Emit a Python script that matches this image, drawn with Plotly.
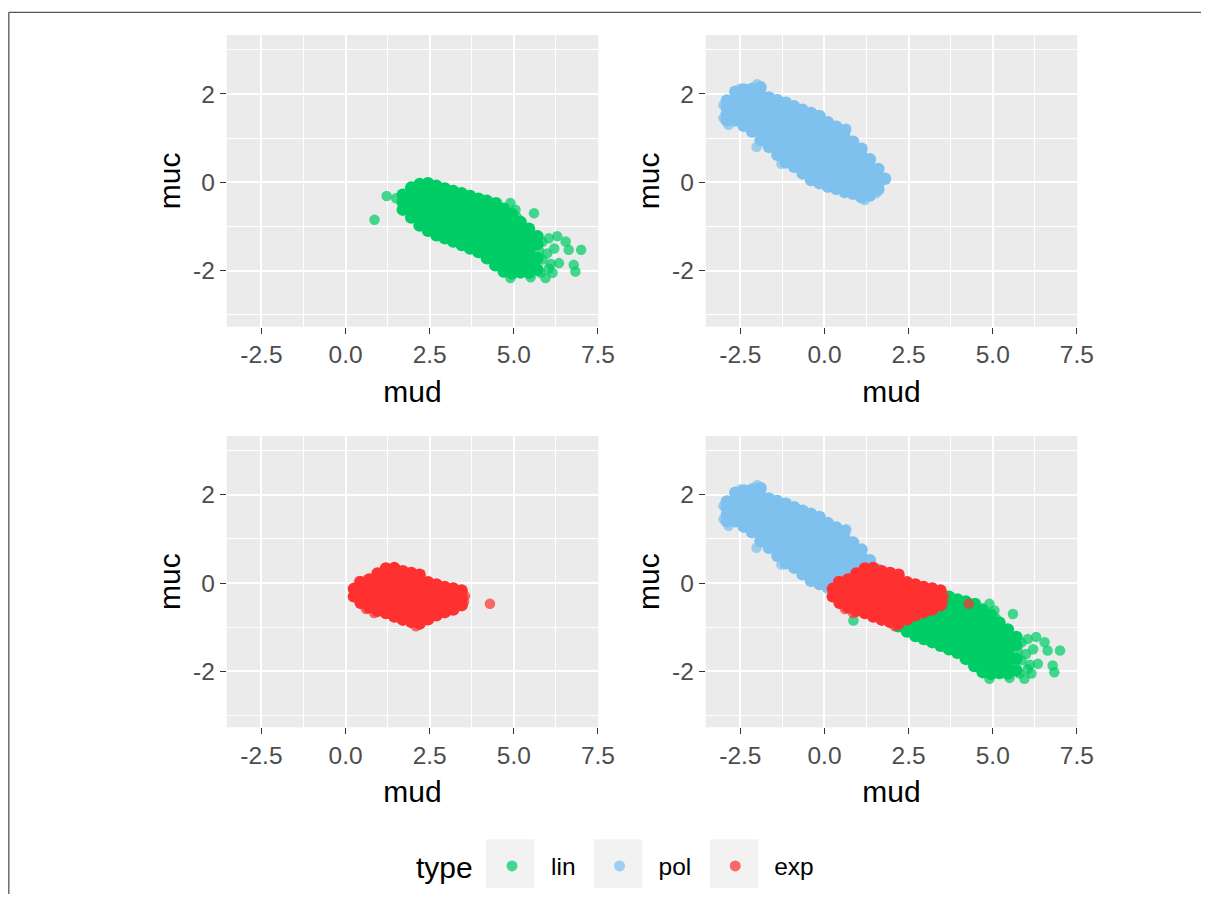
import plotly.graph_objects as go

# ---------------- data ----------------
# lin: points grouped by mud column, muc values per column
lin_col_mud = [1.70, 1.95, 2.20, 2.45, 2.70, 2.95, 3.20, 3.45, 3.70, 3.95,
               4.20, 4.45, 4.70, 4.95, 5.20, 5.45, 5.70]
lin_col_muc = [
    [-0.28, -0.45, -0.62],
    [-0.12, -0.29, -0.46, -0.63, -0.80],
    [-0.04, -0.20, -0.37, -0.54, -0.71, -0.87, -0.98],
    [-0.02, -0.19, -0.36, -0.53, -0.70, -0.86, -1.02, -1.10],
    [-0.08, -0.25, -0.42, -0.58, -0.75, -0.92, -1.08, -1.20],
    [-0.14, -0.31, -0.48, -0.65, -0.82, -0.98, -1.14, -1.27],
    [-0.20, -0.37, -0.54, -0.70, -0.87, -1.04, -1.20, -1.34],
    [-0.25, -0.42, -0.59, -0.75, -0.92, -1.09, -1.25, -1.42],
    [-0.31, -0.48, -0.64, -0.81, -0.98, -1.14, -1.31, -1.50],
    [-0.37, -0.54, -0.70, -0.87, -1.04, -1.20, -1.37, -1.58],
    [-0.42, -0.59, -0.76, -0.93, -1.10, -1.27, -1.44, -1.60, -1.72],
    [-0.48, -0.65, -0.82, -0.99, -1.16, -1.33, -1.50, -1.67, -1.88],
    [-0.60, -0.76, -0.92, -1.08, -1.24, -1.40, -1.56, -1.72, -1.88, -2.02],
    [-0.72, -0.88, -1.05, -1.22, -1.39, -1.56, -1.73, -1.90, -2.06],
    [-0.90, -1.06, -1.23, -1.40, -1.57, -1.74, -1.90, -2.04],
    [-1.05, -1.22, -1.39, -1.56, -1.73, -1.90, -2.05],
    [-1.22, -1.40, -1.72, -1.98],
]
lin_extra_mud = [0.86, 1.22, 1.50, 4.50, 4.90, 5.60, 5.05, 5.10, 6.04, 6.29, 6.54, 6.63,
                 7.00, 6.78, 6.83, 6.34, 6.04, 5.94, 5.99, 5.50, 4.90, 6.20, 5.85,
                 5.85, 6.10, 5.80, 6.15, 5.75]
lin_extra_muc = [-0.85, -0.31, -0.36, -0.45, -0.47, -0.70, -0.62, -0.80, -1.27, -1.22, -1.34, -1.53,
                 -1.53, -1.87, -2.02, -1.83, -1.95, -2.17, -1.61, -2.15, -2.17, -1.50, -1.35,
                 -1.75, -1.85, -2.05, -2.05, -1.55]

# pol
pol_col_mud = [-2.90, -2.65, -2.40, -2.15, -1.90, -1.65, -1.40, -1.15, -0.90, -0.65,
               -0.40, -0.15, 0.10, 0.35, 0.60, 0.85, 1.10, 1.35, 1.60, 1.80]
pol_col_muc = [
    [1.85, 1.70, 1.55, 1.40],
    [2.05, 1.88, 1.72, 1.56, 1.40],
    [2.10, 1.94, 1.78, 1.61, 1.45, 1.28],
    [2.12, 1.95, 1.78, 1.61, 1.44, 1.28, 1.15],
    [2.15, 1.98, 1.81, 1.64, 1.47, 1.30, 1.13, 0.95],
    [1.92, 1.76, 1.60, 1.44, 1.28, 1.12, 0.96, 0.80],
    [1.86, 1.70, 1.54, 1.38, 1.22, 1.06, 0.90, 0.75, 0.62],
    [1.80, 1.63, 1.46, 1.29, 1.12, 0.96, 0.79, 0.62, 0.45],
    [1.72, 1.55, 1.38, 1.21, 1.04, 0.87, 0.70, 0.52, 0.35],
    [1.64, 1.48, 1.32, 1.16, 1.00, 0.84, 0.68, 0.52, 0.36, 0.20],
    [1.57, 1.40, 1.23, 1.06, 0.89, 0.72, 0.55, 0.38, 0.21, 0.05],
    [1.50, 1.33, 1.16, 0.99, 0.82, 0.65, 0.48, 0.31, 0.14, -0.02],
    [1.36, 1.20, 1.04, 0.88, 0.72, 0.56, 0.40, 0.24, 0.07, -0.10],
    [1.26, 1.09, 0.92, 0.75, 0.58, 0.41, 0.24, 0.06, -0.15],
    [1.18, 1.01, 0.84, 0.66, 0.49, 0.32, 0.14, -0.04, -0.22],
    [0.92, 0.75, 0.58, 0.41, 0.24, 0.08, -0.09, -0.26],
    [0.76, 0.60, 0.44, 0.28, 0.12, -0.04, -0.20, -0.34],
    [0.52, 0.36, 0.20, 0.04, -0.13, -0.30],
    [0.30, 0.14, -0.02, -0.16],
    [0.08],
]
pol_extra_mud = [-3.00, -3.00, -2.00, -2.50, -2.02, -1.28, 0.65, 1.20, 1.55, -2.85]
pol_extra_muc = [1.75, 1.45, 2.22, 2.12, 0.80, 0.42, 1.22, -0.40, -0.24, 1.30]

# exp
exp_col_mud = [0.25, 0.45, 0.70, 0.95, 1.20, 1.45, 1.70, 1.95, 2.20, 2.45, 2.70, 2.95, 3.20, 3.45]
exp_col_muc = [
    [-0.13, -0.30],
    [0.02, -0.14, -0.30, -0.45],
    [0.08, -0.08, -0.24, -0.40, -0.55],
    [0.22, 0.05, -0.12, -0.29, -0.46, -0.63],
    [0.33, 0.16, -0.01, -0.18, -0.35, -0.52, -0.68],
    [0.34, 0.17, 0.00, -0.17, -0.34, -0.51, -0.68, -0.76],
    [0.27, 0.10, -0.07, -0.24, -0.41, -0.58, -0.75, -0.83],
    [0.23, 0.06, -0.11, -0.28, -0.45, -0.62, -0.79, -0.88],
    [0.19, 0.02, -0.15, -0.32, -0.49, -0.66, -0.83, -0.92],
    [0.02, -0.15, -0.32, -0.49, -0.66, -0.82],
    [-0.03, -0.20, -0.37, -0.54, -0.73],
    [-0.09, -0.26, -0.43, -0.60, -0.66],
    [-0.12, -0.29, -0.45, -0.60],
    [-0.17, -0.33, -0.50],
]
exp_extra_mud = [4.29, 2.09, 0.61, 0.22, 0.41, 3.55, 3.52, 0.85]
exp_extra_muc = [-0.47, -0.98, -0.59, -0.31, 0.05, -0.30, -0.42, -0.68]

types = ["lin", "pol", "exp"]
colors = {"lin": "#00CD66", "pol": "#7EC0EE", "exp": "#FF3030"}

x_tickvals = [-2.5, 0.0, 2.5, 5.0, 7.5]
x_ticktext = ["-2.5", "0.0", "2.5", "5.0", "7.5"]
x_minor = [-1.25, 1.25, 3.75, 6.25]
y_tickvals = [-2, 0, 2]
y_ticktext = ["-2", "0", "2"]
y_minor = [-3, -1, 1, 3]

# marker styling: dense core points drawn solid, sparse outer points translucent
CORE_SIZE, CORE_OP = 12.5, 1.0
OUT_SIZE, OUT_OP = 10.5, 0.72


def build(col_x, col_y, ex_x, ex_y):
    xs, ys, sz, op = [], [], [], []
    for cx, cys in zip(col_x, col_y):
        for cy in cys:
            xs.append(cx)
            ys.append(cy)
            sz.append(CORE_SIZE)
            op.append(CORE_OP)
    for ex, ey in zip(ex_x, ex_y):
        xs.append(ex)
        ys.append(ey)
        sz.append(OUT_SIZE)
        op.append(OUT_OP)
    return xs, ys, sz, op


data = {
    "lin": build(lin_col_mud, lin_col_muc, lin_extra_mud, lin_extra_muc),
    "pol": build(pol_col_mud, pol_col_muc, pol_extra_mud, pol_extra_muc),
    "exp": build(exp_col_mud, exp_col_muc, exp_extra_mud, exp_extra_muc),
}

# ---------------- figure ----------------
# page body has an 8px margin; the page is captured ~1226px wide and shown at 1209px,
# so horizontal positions are scaled by SX.
OFF = 8
SX = 1209 / 1226
W, H = 1210, 886
FONT = "Liberation Sans, Arial, sans-serif"


def fx(p):  # target pixel x -> paper
    return (p / SX - OFF) / W


def fy(p):  # target pixel y -> paper
    return 1 - (p - OFF) / H


fig = go.Figure()

panel_of = {"lin": 1, "pol": 2, "exp": 3}


def axes_of(k):
    return ("x" if k == 1 else f"x{k}"), ("y" if k == 1 else f"y{k}")


# individual panels
for t in types:
    xa, ya = axes_of(panel_of[t])
    xs, ys, sz, op = data[t]
    fig.add_trace(go.Scatter(
        x=xs, y=ys, mode="markers", name=t, legendgroup=t, showlegend=False,
        marker=dict(color=colors[t], size=sz, opacity=op, line=dict(width=0)),
        xaxis=xa, yaxis=ya, hoverinfo="skip",
    ))
# combined panel
for t in types:
    xs, ys, sz, op = data[t]
    fig.add_trace(go.Scatter(
        x=xs, y=ys, mode="markers", name=t, legendgroup=t, showlegend=False,
        marker=dict(color=colors[t], size=sz, opacity=op, line=dict(width=0)),
        xaxis="x4", yaxis="y4", hoverinfo="skip",
    ))
# legend entries (no data, legend only)
for t in types:
    fig.add_trace(go.Scatter(
        x=[None], y=[None], mode="markers", name=t, legendgroup=t, showlegend=True,
        marker=dict(color=colors[t], size=11, opacity=0.72, line=dict(width=0)),
        xaxis="x4", yaxis="y4", hoverinfo="skip",
    ))

colx = [(226.7, 598.3), (705.7, 1077.3)]
rowy = [(35.0, 326.7), (436.0, 727.3)]


def xdom(c):
    return [fx(colx[c][0]), fx(colx[c][1])]


def ydom(r):
    return [fy(rowy[r][1]), fy(rowy[r][0])]


common_x = dict(
    range=[-3.53, 7.51], tickmode="array", tickvals=x_tickvals, ticktext=x_ticktext,
    showgrid=True, gridcolor="white", gridwidth=1.5, zeroline=False, showline=False,
    ticks="outside", ticklen=6, tickwidth=1.1, tickcolor="#333333",
    tickfont=dict(size=24.5, color="#4D4D4D", family=FONT),
    minor=dict(tickmode="array", tickvals=x_minor, showgrid=True, gridcolor="white",
               gridwidth=0.75, ticks=""),
    title=dict(text="mud", font=dict(size=30, color="black", family=FONT), standoff=13),
    fixedrange=True,
)
common_y = dict(
    range=[-3.27, 3.335], tickmode="array", tickvals=y_tickvals, ticktext=y_ticktext,
    showgrid=True, gridcolor="white", gridwidth=1.5, zeroline=False, showline=False,
    ticks="outside", ticklen=6, tickwidth=1.1, tickcolor="#333333",
    tickfont=dict(size=24.5, color="#4D4D4D", family=FONT),
    minor=dict(tickmode="array", tickvals=y_minor, showgrid=True, gridcolor="white",
               gridwidth=0.75, ticks=""),
    title=dict(text="muc", font=dict(size=30, color="black", family=FONT), standoff=3),
    fixedrange=True,
)

layout_axes = {}
for k, (c, r) in enumerate([(0, 0), (1, 0), (0, 1), (1, 1)], start=1):
    xn = "xaxis" if k == 1 else f"xaxis{k}"
    yn = "yaxis" if k == 1 else f"yaxis{k}"
    xa = dict(common_x)
    ya = dict(common_y)
    xa.update(domain=xdom(c), anchor="y" if k == 1 else f"y{k}")
    ya.update(domain=ydom(r), anchor="x" if k == 1 else f"x{k}")
    layout_axes[xn] = xa
    layout_axes[yn] = ya

fig.update_layout(**layout_axes)

# legend key backgrounds (ggplot style grey squares)
key_boxes = [(486.0, 534.3), (594.0, 642.3), (710.0, 758.3)]
shapes = []
for x0, x1 in key_boxes:
    shapes.append(dict(type="rect", xref="paper", yref="paper",
                       x0=fx(x0), x1=fx(x1), y0=fy(887.7), y1=fy(839.3),
                       fillcolor="#F2F2F2", line=dict(width=0), layer="below"))
# outer frame lines
shapes.append(dict(type="line", xref="paper", yref="paper",
                   x0=fx(8.7), x1=1, y0=fy(12.3), y1=fy(12.3),
                   line=dict(color="#555555", width=1.3)))
shapes.append(dict(type="line", xref="paper", yref="paper",
                   x0=fx(8.7), x1=fx(8.7), y0=0, y1=fy(12.3),
                   line=dict(color="#555555", width=1.3)))

annotations = [
    dict(text="type", xref="paper", yref="paper", x=fx(414), y=fy(867),
         xanchor="left", yanchor="middle", showarrow=False,
         font=dict(size=30, color="black", family=FONT)),
]

fig.update_layout(
    width=W, height=H, autosize=False,
    margin=dict(l=0, r=0, t=0, b=0, pad=0),
    paper_bgcolor="white", plot_bgcolor="#EBEBEB",
    font=dict(family=FONT, color="black"),
    shapes=shapes,
    annotations=annotations,
    showlegend=True,
    legend=dict(
        orientation="h", x=fx(473), xanchor="left", y=fy(866), yanchor="middle",
        font=dict(size=24.5, color="black", family=FONT),
        itemwidth=68, bgcolor="rgba(0,0,0,0)", borderwidth=0,
        traceorder="normal", itemclick=False, itemdoubleclick=False,
    ),
)

fig.write_html("out.html", config={"displayModeBar": False})
